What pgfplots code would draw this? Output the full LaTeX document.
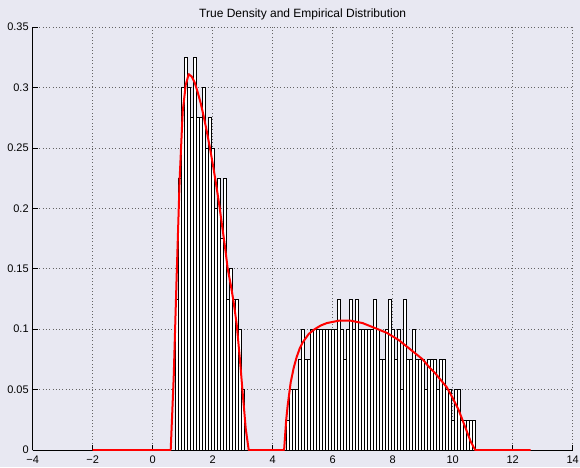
\documentclass[border=0pt]{standalone}
\usepackage{fontspec}
\setmainfont{Liberation Sans}
\usepackage{pgfplots}
\usepackage{pgfplotstable}
\pgfplotsset{compat=1.18}
\definecolor{bg}{RGB}{232,232,242}
\definecolor{gridc}{RGB}{100,100,100}

\pgfplotstableread{
x h
0.8 0.125
0.9 0.225
1.0 0.3
1.1 0.325
1.2 0.3
1.3 0.275
1.4 0.325
1.5 0.275
1.6 0.275
1.7 0.3
1.8 0.25
1.9 0.275
2.0 0.25
2.1 0.2
2.2 0.225
2.3 0.175
2.4 0.225
2.5 0.125
2.6 0.15
2.7 0.125
2.8 0.125
2.9 0.1
3.0 0.05
4.5 0.025
4.6 0.05
4.7 0.05
4.8 0.05
4.9 0.075
5.0 0.1
5.1 0.075
5.2 0.075
5.3 0.1
5.4 0.1
5.5 0.1
5.6 0.1
5.7 0.1
5.8 0.1
5.9 0.1
6.0 0.1
6.1 0.1
6.2 0.125
6.3 0.1
6.4 0.075
6.5 0.1
6.6 0.125
6.7 0.1
6.8 0.125
6.9 0.1
7.0 0.1
7.1 0.1
7.2 0.1
7.3 0.1
7.4 0.125
7.5 0.1
7.6 0.075
7.7 0.075
7.8 0.1
7.9 0.125
8.0 0.1
8.1 0.075
8.2 0.1
8.3 0.05
8.4 0.125
8.5 0.075
8.6 0.075
8.7 0.1
8.8 0.075
8.9 0.075
9.0 0.075
9.1 0.05
9.2 0.075
9.3 0.075
9.4 0.075
9.5 0.05
9.6 0.075
9.7 0.075
9.8 0.05
9.9 0.05
10.0 0.025
10.1 0.05
10.2 0.05
10.3 0.025
10.4 0.025
10.5 0.025
10.6 0.025
10.7 0.025
}\histtable

\pgfplotstableread{
x f
-2 0
0.6 0
0.7 0.06
0.8 0.145
0.9 0.225
1.0 0.28
1.1 0.302
1.2 0.311
1.3 0.309
1.4 0.304
1.5 0.296
1.6 0.287
1.7 0.276
1.8 0.264
1.9 0.251
2.0 0.237
2.1 0.222
2.2 0.206
2.3 0.188
2.4 0.17
2.5 0.15
2.6 0.137
2.7 0.122
2.8 0.104
2.9 0.077
3.0 0.047
3.1 0.018
3.2 0
4.38 0
4.45 0.025
4.5 0.037
4.6 0.056
4.7 0.068
4.8 0.077
4.9 0.084
5.0 0.089
5.2 0.096
5.4 0.1
5.6 0.103
5.8 0.105
6.0 0.106
6.2 0.107
6.4 0.107
6.6 0.107
6.8 0.106
7.0 0.105
7.2 0.103
7.4 0.101
7.6 0.099
7.8 0.097
8.0 0.094
8.2 0.091
8.4 0.087
8.6 0.083
8.8 0.079
9.0 0.075
9.2 0.069
9.4 0.064
9.6 0.058
9.8 0.052
10.0 0.043
10.2 0.033
10.4 0.02
10.6 0.007
10.75 0
12.6 0
}\denstable

\begin{document}
\begin{tikzpicture}
\fill[bg] (0,0) rectangle (580pt,467pt);
\begin{axis}[
  at={(32.7pt,17pt)}, anchor=south west,
  scale only axis, width=540pt, height=423pt,
  xmin=-4, xmax=14, ymin=0, ymax=0.35,
  xtick={-4,-2,0,2,4,6,8,10,12,14},
  ytick={0,0.05,0.1,0.15,0.2,0.25,0.3,0.35},
  xticklabels={−4,−2,0,2,4,6,8,10,12,14},
  yticklabels={0,0.05,0.1,0.15,0.2,0.25,0.3,0.35},
  axis x line*=bottom, axis y line*=left,
  tick align=inside, major tick length=5pt,
  grid=major,
  major grid style={gridc, dash pattern=on 0.7pt off 2.6pt, line width=0.6pt},
  tick style={black, line width=0.5pt},
  axis line style={black, line width=0.6pt},
  ticklabel style={font=\fontsize{11}{13}\selectfont},
  xticklabel style={yshift=-2.5pt},
  yticklabel style={xshift=-0.5pt},
  title={True Density and Empirical Distribution},
  title style={font=\fontsize{12}{14}\selectfont, at={(0.5,1)}, anchor=base, yshift=3.5pt},
  axis background/.style={fill=bg},
]
\addplot[ybar, bar width=0.1, draw=black, fill=white, line width=0.55pt] table[x=x,y=h] {\histtable};
\addplot[red, mark=none, line width=2pt, line join=round] table[x=x,y=f] {\denstable};
\end{axis}
\pgfresetboundingbox
\useasboundingbox (0,0) rectangle (580pt,467pt);
\end{tikzpicture}
\end{document}
